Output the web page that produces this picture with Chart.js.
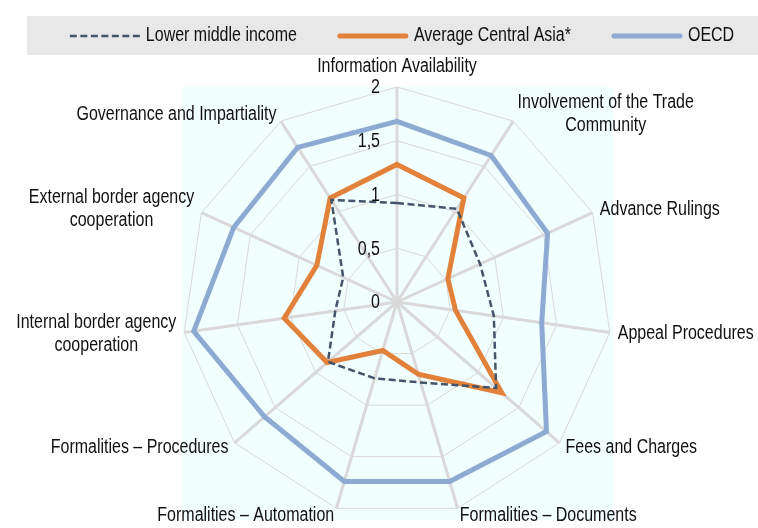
<!DOCTYPE html>
<html>
<head>
<meta charset="utf-8">
<script src="https://cdn.jsdelivr.net/npm/chart.js@4"></script>
<style>
  body { margin: 0; background: #fff; }
  #wrap { width: 758px; height: 528px; }
</style>
</head>
<body>
<div id="wrap"><canvas id="radar" width="758" height="528"></canvas></div>
<script>
const categories = [
  'Information Availability',
  ['Involvement of the Trade', 'Community'],
  'Advance Rulings',
  'Appeal Procedures',
  'Fees and Charges',
  'Formalities \u2013 Documents',
  'Formalities \u2013 Automation',
  'Formalities \u2013 Procedures',
  ['Internal border agency', 'cooperation'],
  ['External border agency', 'cooperation'],
  'Governance and Impartiality'
];
const lowerMiddle = [0.92, 1.03, 0.85, 0.91, 1.22, 0.78, 0.74, 0.85, 0.58, 0.55, 1.13];
const centralAsia = [1.28, 1.15, 0.52, 0.55, 1.29, 0.70, 0.47, 0.86, 1.06, 0.82, 1.15];
const oecd = [1.68, 1.62, 1.54, 1.36, 1.84, 1.74, 1.74, 1.63, 1.91, 1.67, 1.71];
const tickValues = [0, 0.5, 1, 1.5, 2];
const tickLabels = ['0', '0,5', '1', '1,5', '2'];

// no narrow font installed, so squeeze Liberation Sans like Arial Narrow
const FONT = '19.5px "Liberation Sans", Arial, sans-serif';
const SQUEEZE = 0.82;

function textW(ctx, t) {
  return ctx.measureText(t).width * SQUEEZE;
}
function narrowText(ctx, t, x, y, align) {
  ctx.save();
  ctx.translate(x, y);
  ctx.scale(SQUEEZE, 1);
  ctx.textAlign = align;
  ctx.fillText(t, 0, 0);
  ctx.restore();
}

// plot area fill, legend band, point labels and ticks (Excel look)
const excelLook = {
  id: 'excelLook',
  beforeDraw(chart) {
    const ctx = chart.ctx;
    const r = chart.scales.r;
    ctx.save();
    ctx.fillStyle = '#E8E8E8';
    ctx.fillRect(27, 16, 731, 39);
    ctx.fillStyle = '#F2FFFF';
    ctx.fillRect(r.xCenter - r.drawingArea, r.yCenter - r.drawingArea, r.drawingArea * 2 + 1, r.drawingArea * 2 + 3);
    ctx.restore();
  },
  afterDraw(chart) {
    const ctx = chart.ctx;
    const r = chart.scales.r;
    ctx.save();
    ctx.font = FONT;
    ctx.fillStyle = '#111';
    ctx.textBaseline = 'middle';

    // tick labels sit left of the vertical axis
    tickValues.forEach((v, i) => {
      narrowText(ctx, tickLabels[i], r.xCenter - 17, r.yCenter - r.getDistanceFromCenterForValue(v) + 1, 'right');
    });

    // point labels
    const lineH = 23;
    chart.data.labels.forEach((lab, i) => {
      const lines = Array.isArray(lab) ? lab : [lab];
      const a = r.getIndexAngle(i);
      const p = r.getPointPosition(i, r.drawingArea + 8);
      const w = Math.max(...lines.map(l => textW(ctx, l)));
      const h = lines.length * lineH;
      const s = Math.sin(a);
      let cx = p.x, cy = p.y;
      if (Math.abs(s) < 0.05) {
        cy = p.y - Math.cos(a) * (h / 2 + 1);
      } else if (s > 0) {
        cx = p.x + w / 2;
      } else {
        cx = p.x - w / 2;
      }
      lines.forEach((l, j) => {
        narrowText(ctx, l, cx, cy - h / 2 + lineH * (j + 0.5), 'center');
      });
    });

    // legend
    const sample = 70, gap = 6, spacing = 41;
    const items = chart.data.datasets.map(ds => ({
      text: ds.label, color: ds.borderColor, width: ds.borderWidth, dash: ds.borderDash || []
    }));
    const total = items.reduce((s2, it) => s2 + sample + gap + textW(ctx, it.text), 0) + spacing * (items.length - 1);
    let x = 402 - total / 2;
    const y = 36;
    items.forEach(it => {
      ctx.beginPath();
      ctx.strokeStyle = it.color;
      ctx.lineWidth = it.width;
      ctx.setLineDash(it.dash);
      ctx.lineCap = it.dash.length ? 'butt' : 'round';
      ctx.moveTo(x + (it.dash.length ? 0 : 2), y);
      ctx.lineTo(x + sample - (it.dash.length ? 0 : 2), y);
      ctx.stroke();
      ctx.setLineDash([]);
      x += sample + gap;
      narrowText(ctx, it.text, x, y, 'left');
      x += textW(ctx, it.text) + spacing;
    });
    ctx.restore();
  }
};

new Chart(document.getElementById('radar').getContext('2d'), {
  type: 'radar',
  data: {
    labels: categories,
    datasets: [
      {
        label: 'Lower middle income',
        data: lowerMiddle,
        borderColor: '#44546A',
        borderWidth: 2.5,
        borderDash: [7, 3.5],
        fill: false,
        pointRadius: 0
      },
      {
        label: 'Average Central Asia*',
        data: centralAsia,
        borderColor: '#E2823A',
        borderWidth: 5,
        fill: false,
        pointRadius: 0
      },
      {
        label: 'OECD',
        data: oecd,
        borderColor: '#8EA9D2',
        borderWidth: 5,
        fill: false,
        pointRadius: 0
      }
    ]
  },
  options: {
    responsive: false,
    animation: false,
    layout: { padding: { left: 182, right: 146, top: 87, bottom: 11 } },
    elements: { line: { tension: 0, borderJoinStyle: 'miter' } },
    plugins: {
      legend: { display: false },
      tooltip: { enabled: false }
    },
    scales: {
      r: {
        min: 0,
        max: 2,
        ticks: { stepSize: 0.5, display: false },
        pointLabels: { display: false },
        grid: { color: '#D9D9D9', lineWidth: 1 },
        angleLines: { color: '#D9D9D9', lineWidth: 3 }
      }
    }
  },
  plugins: [excelLook]
});
</script>
</body>
</html>
